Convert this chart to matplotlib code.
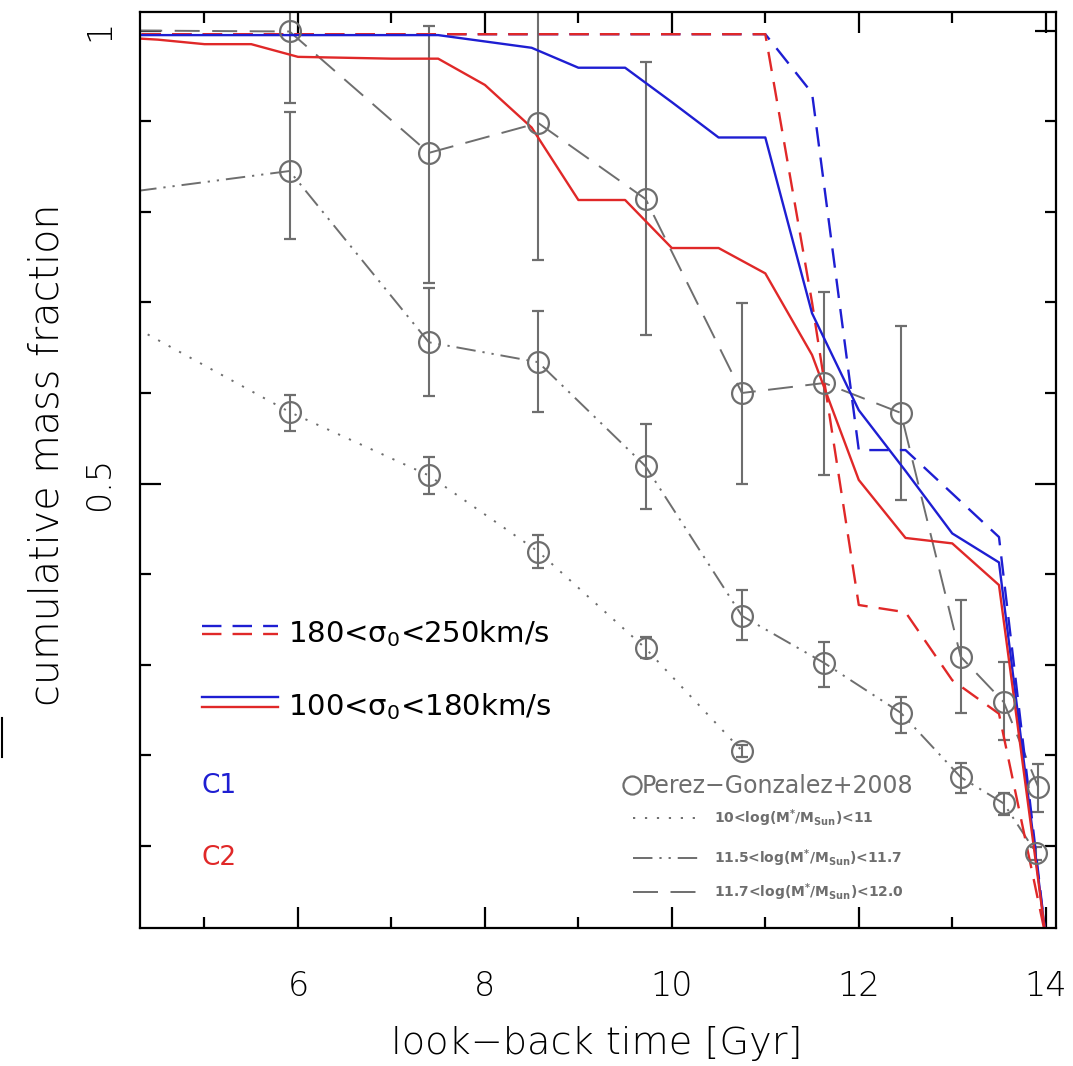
import matplotlib
matplotlib.use('Agg')
import matplotlib.pyplot as plt
from matplotlib.lines import Line2D

plt.rcParams['font.family'] = ['DejaVu Sans']
plt.rcParams['mathtext.default'] = 'regular'
plt.rcParams['lines.scale_dashes'] = False

# ---------------- model curves (cumulative mass fraction) ----------------
t_model = [4.0, 4.5, 5.0, 5.5, 6.0, 6.5, 7.0, 7.5, 8.0, 8.5, 9.0, 9.5,
           10.0, 10.5, 11.0, 11.5, 12.0, 12.5, 13.0, 13.5, 14.0]
c1_low = [0.995, 0.995, 0.995, 0.995, 0.995, 0.995, 0.995, 0.995, 0.988, 0.981,
          0.959, 0.959, 0.921, 0.882, 0.882, 0.688, 0.581, 0.514, 0.445, 0.413, 0.0]
c2_low = [0.993, 0.990, 0.985, 0.985, 0.971, 0.970, 0.969, 0.969, 0.940, 0.893,
          0.813, 0.813, 0.760, 0.760, 0.732, 0.642, 0.504, 0.440, 0.434, 0.388, 0.0]
c1_high = [0.996, 0.996, 0.996, 0.996, 0.996, 0.996, 0.996, 0.996, 0.996, 0.996,
           0.996, 0.996, 0.996, 0.996, 0.996, 0.931, 0.537, 0.537, 0.489, 0.441, 0.0]
c2_high = [0.996, 0.996, 0.996, 0.996, 0.996, 0.996, 0.996, 0.996, 0.996, 0.996,
           0.996, 0.996, 0.996, 0.996, 0.996, 0.700, 0.366, 0.358, 0.283, 0.246, 0.0]

# ---------------- Perez-Gonzalez+2008 ----------------
# 10 < log(M*/Msun) < 11  (dotted)
pa_t = [5.91, 7.40, 8.57, 9.72, 10.75]
pa_y = [0.579, 0.509, 0.425, 0.318, 0.205]
pa_lo = [0.558, 0.489, 0.407, 0.308, 0.198]
pa_hi = [0.598, 0.529, 0.443, 0.331, 0.212]
pa_edge = [4.28, 0.671]
# 11.5 < log(M*/Msun) < 11.7  (dash-dot-dot)
pb_t = [5.91, 7.40, 8.57, 9.72, 10.75, 11.63, 12.45, 13.09, 13.55, 13.90]
pb_y = [0.845, 0.656, 0.634, 0.519, 0.354, 0.302, 0.247, 0.176, 0.147, 0.092]
pb_lo = [0.770, 0.597, 0.579, 0.472, 0.327, 0.275, 0.225, 0.158, 0.134, 0.085]
pb_hi = [0.910, 0.716, 0.691, 0.566, 0.383, 0.325, 0.265, 0.192, 0.158, 0.099]
pb_edge = [4.28, 0.823]
# 11.7 < log(M*/Msun) < 12.0  (dashed)
pc_t = [5.91, 7.40, 8.57, 9.72, 10.75, 11.63, 12.45, 13.09, 13.55, 13.92]
pc_y = [0.999, 0.865, 0.898, 0.814, 0.600, 0.611, 0.578, 0.309, 0.259, 0.165]
pc_lo = [0.920, 0.721, 0.747, 0.664, 0.499, 0.509, 0.482, 0.247, 0.217, 0.137]
pc_hi = [1.100, 1.005, 1.100, 0.965, 0.699, 0.711, 0.674, 0.371, 0.303, 0.191]
pc_edge = [4.28, 1.0]

x_major = [6, 8, 10, 12, 14]
x_minor = [5, 7, 9, 11, 13]
y_major = [0.5, 1.0]
y_major_labels = ['0.5', '1']
y_minor = [0.1, 0.2, 0.3, 0.4, 0.6, 0.7, 0.8, 0.9]

BLUE = '#1e1ed2'
RED = '#e02828'
GREY = '#6e6e6e'
LIGHT = 'light'

fig = plt.figure(figsize=(10.73, 10.66), dpi=100)
ax = fig.add_axes([140 / 1073, 1 - 928 / 1066, 916 / 1073, 916 / 1066])

styles = {
    'a': (0, (1.6, 7.0)),
    'b': (0, (14, 5, 1.6, 5, 1.6, 5)),
    'c': (0, (18, 9)),
}

for t, y, lo, hi, edge, ls in [
        (pa_t, pa_y, pa_lo, pa_hi, pa_edge, styles['a']),
        (pb_t, pb_y, pb_lo, pb_hi, pb_edge, styles['b']),
        (pc_t, pc_y, pc_lo, pc_hi, pc_edge, styles['c'])]:
    ax.plot([edge[0]] + t, [edge[1]] + y, color=GREY, lw=1.4, linestyle=ls)
    yerr = [[yy - l for yy, l in zip(y, lo)], [h - yy for yy, h in zip(y, hi)]]
    ax.errorbar(t, y, yerr=yerr, fmt='o', mfc='none', mec=GREY, ms=15, mew=1.6,
                ecolor=GREY, elinewidth=1.5, capsize=4.3, capthick=1.5)

dash_col = (0, (14, 8))
ax.plot(t_model, c1_high, color=BLUE, lw=1.7, linestyle=dash_col)
ax.plot(t_model, c2_high, color=RED, lw=1.7, linestyle=dash_col)
ax.plot(t_model, c1_low, color=BLUE, lw=1.7)
ax.plot(t_model, c2_low, color=RED, lw=1.7)

ax.set_xlim(4.31, 14.11)
ax.set_ylim(0.0095, 1.0205)
ax.set_xticks(x_major)
ax.set_xticks(x_minor, minor=True)
ax.set_yticks(y_major)
ax.set_yticklabels(y_major_labels)
ax.set_yticks(y_minor, minor=True)
ax.tick_params(which='both', direction='in', top=True, right=True, width=1.6, colors='black')
ax.tick_params(which='major', length=15)
ax.tick_params(which='minor', length=8)
ax.tick_params(axis='x', which='major', labelsize=24, pad=30)
ax.tick_params(axis='y', which='major', labelsize=24, pad=17, labelrotation=90)
for lbl in ax.get_yticklabels() + ax.get_xticklabels():
    lbl.set_fontweight(LIGHT)
for lbl in ax.get_yticklabels():
    lbl.set_va('center')
for sp in ax.spines.values():
    sp.set_linewidth(1.6)

fig.text(597 / 1073, 1 - 1054 / 1066, 'look\u2212back time [Gyr]', fontsize=27.5,
         ha='center', va='baseline', fontweight=LIGHT)
fig.text(47 / 1073, 1 - 455 / 1066, 'cumulative mass fraction', fontsize=28.5,
         ha='center', va='center', rotation=90, fontweight=LIGHT)

# ---------------- in-axes legend ----------------
def axc(px, py):
    return (px - 140) / 916, (928 - py) / 916

T = ax.transAxes
for py, col, ls in [(626, BLUE, dash_col), (634, RED, dash_col), (697, BLUE, '-'), (707, RED, '-')]:
    x0, y0 = axc(202, py)
    x1, _ = axc(278, py)
    ax.add_line(Line2D([x0, x1], [y0, y0], transform=T, color=col, lw=1.7, linestyle=ls))

ax.text(*axc(288, 642), '180<\u03c3$_0$<250km/s', transform=T, fontsize=21, va='baseline')
ax.text(*axc(288, 715), '100<\u03c3$_0$<180km/s', transform=T, fontsize=21, va='baseline')
ax.text(*axc(202, 793), 'C1', transform=T, fontsize=19, va='baseline', color=BLUE)
ax.text(*axc(202, 865), 'C2', transform=T, fontsize=19, va='baseline', color=RED)

mx, my = axc(632, 785)
ax.plot([mx], [my], 'o', transform=T, mfc='none', mec=GREY, ms=13, mew=1.6)
ax.text(*axc(642, 793), 'Perez\u2212Gonzalez+2008', transform=T, fontsize=17,
        va='baseline', color=GREY)
for py, ls, lab in [(818, styles['a'], '10<log(M$^{*}$/M$_{Sun}$)<11'),
                    (858, styles['b'], '11.5<log(M$^{*}$/M$_{Sun}$)<11.7'),
                    (892, styles['c'], '11.7<log(M$^{*}$/M$_{Sun}$)<12.0')]:
    x0, y0 = axc(633, py)
    x1, _ = axc(703, py)
    ax.add_line(Line2D([x0, x1], [y0, y0], transform=T, color=GREY, lw=1.4, linestyle=ls))
    ax.text(*axc(714, py), lab, transform=T, fontsize=10, va='center',
            color=GREY, fontweight='bold')

fig.add_artist(Line2D([0.0015, 0.0015], [1 - 757 / 1066, 1 - 718 / 1066],
                      transform=fig.transFigure, color='black', lw=1.5))

fig.savefig('out.png', dpi=100)
